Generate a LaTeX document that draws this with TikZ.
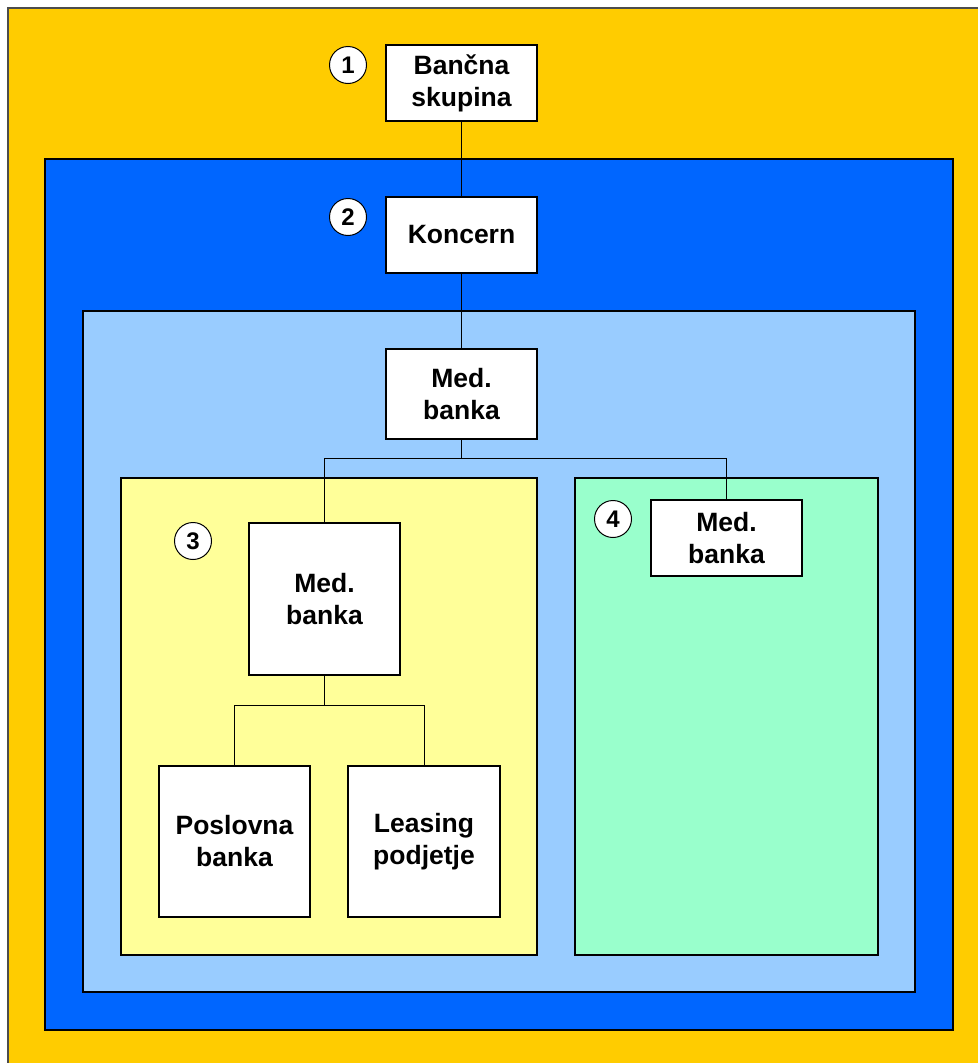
\documentclass[tikz,border=0pt]{standalone}
\usepackage{fontspec}
\setmainfont{Liberation Sans}
\begin{document}
\begin{tikzpicture}[x=1pt,y=-1pt,
  region/.style={draw=black,line width=1.2pt},
  unit/.style={draw=black,fill=white,line width=1.5pt,align=center,inner sep=0pt,
    font=\bfseries\fontsize{26.5}{32}\selectfont},
  badge/.style={circle,draw=black,fill=white,line width=1pt,minimum size=37pt,inner sep=0pt,
    font=\bfseries\fontsize{24}{24}\selectfont},
  link/.style={draw=black,line width=1pt}]
\definecolor{gold}{HTML}{FFCC00}
\definecolor{royal}{HTML}{0066FF}
\definecolor{sky}{HTML}{99CCFF}
\definecolor{lemon}{HTML}{FFFF99}
\definecolor{mint}{HTML}{99FFCC}
\useasboundingbox (0,0) rectangle (978,1063);
% nested regions
\fill[gold] (8,8) rectangle (978,1063);
\draw[line width=1.5pt,black!70] (8,1063) -- (8,8) -- (978,8);
\path[region,fill=royal] (45,159) rectangle (953,1030);
\path[region,fill=sky] (83,311) rectangle (915,992);
\path[region,fill=lemon] (121,478) rectangle (537,955);
\path[region,fill=mint] (575,478) rectangle (878,955);
% units
\node[unit,minimum width=151pt,minimum height=76pt] (grp) at (461.5,83) {Bančna\\skupina};
\node[unit,minimum width=151pt,minimum height=76pt] (kon) at (461.5,235) {Koncern};
\node[unit,minimum width=151pt,minimum height=90pt] (med) at (461.5,394) {Med.\\banka};
\node[unit,minimum width=151pt,minimum height=152pt] (medA) at (324.5,599) {Med.\\banka};
\node[unit,minimum width=151pt,minimum height=76pt] (medB) at (726.5,538) {Med.\\banka};
\node[unit,minimum width=151pt,minimum height=151pt] (pos) at (234.5,841.5) {Poslovna\\banka};
\node[unit,minimum width=152pt,minimum height=151pt] (lea) at (424,841.5) {Leasing\\podjetje};
% badges
\node[badge] (b1) at (348,65) {1};
\node[badge] (b2) at (348,217) {2};
\node[badge] (b3) at (193,541) {3};
\node[badge] (b4) at (613,519) {4};
% connectors
\draw[link] (grp.south) -- (kon.north);
\draw[link] (kon.south) -- (med.north);
\coordinate (j1) at (461.5,458);
\coordinate (j2) at (324.5,705);
\draw[link] (med.south) -- (j1) -| (medA.north);
\draw[link] (j1) -| (medB.north);
\draw[link] (medA.south) -- (j2) -| (pos.north);
\draw[link] (j2) -| (lea.north);
\end{tikzpicture}
\end{document}
